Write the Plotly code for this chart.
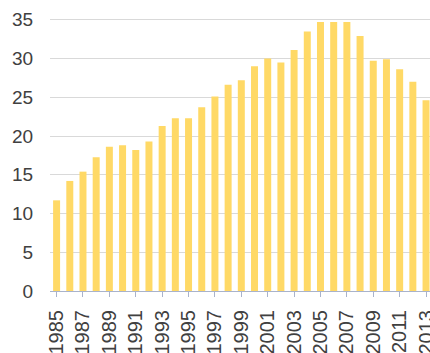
import plotly.graph_objects as go

years = list(range(1985, 2014))
values = [11.7, 14.2, 15.4, 17.25, 18.6, 18.8, 18.2, 19.3, 21.3, 22.3, 22.3, 23.7,
          25.1, 26.6, 27.2, 29.0, 30.0, 29.5, 31.1, 33.5, 34.7, 34.7, 34.7, 32.9,
          29.7, 29.9, 28.6, 27.0, 24.6]
y_ticks = [0, 5, 10, 15, 20, 25, 30, 35]
x_ticks = list(range(1985, 2014, 2))

fig = go.Figure(go.Bar(
    x=years, y=values, width=0.53,
    marker=dict(color="#FFD966", line=dict(width=0)),
))

font = dict(family="Liberation Sans, Arial, sans-serif", size=19, color="#404040")

fig.update_layout(
    width=430, height=353,
    margin=dict(l=50, r=0, t=12, b=62),
    paper_bgcolor="white", plot_bgcolor="white",
    showlegend=False,
    font=font,
    xaxis=dict(
        range=[1984.5, 2013.3],
        tickmode="array", tickvals=x_ticks, ticktext=[str(y) for y in x_ticks],
        tickangle=-90,
        tickfont=dict(size=20),
        ticklabeloverflow="allow",
        automargin=False,
        showline=True, linecolor="#A9B3CB", linewidth=1,
        ticks="outside", ticklen=5, tickcolor="#A9B3CB",
        showgrid=False, zeroline=False,
        ticklabelstandoff=5,
    ),
    yaxis=dict(
        range=[0, 36],
        tickmode="array", tickvals=y_ticks,
        automargin=False,
        showgrid=True, gridcolor="#D9D9D9", gridwidth=1,
        zeroline=False, showline=False,
        ticks="outside", ticklen=12, tickcolor="rgba(0,0,0,0)",
    ),
)

fig.write_html("out.html")
